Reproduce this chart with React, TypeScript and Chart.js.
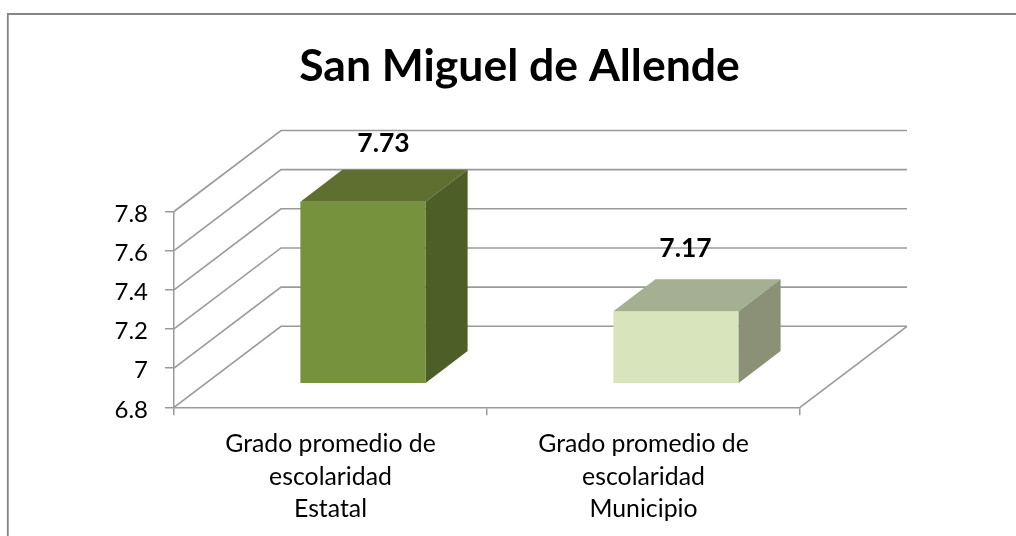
import React, { useEffect, useRef } from "react";
import { Chart, registerables } from "chart.js";

Chart.register(...registerables);

const TITLE = "San Miguel de Allende";
const CATEGORIES = [
  ["Grado promedio de", "escolaridad", "Estatal"],
  ["Grado promedio de", "escolaridad", "Municipio"],
];
const VALUES = [7.73, 7.17];
const VALUE_TEXT = ["7.73", "7.17"];
const Y_MIN = 6.8;
const Y_MAX = 7.8;
const Y_STEP = 0.2;

const FRONT_COLORS = ["#76923c", "#d8e4bc"];
const TOP_COLORS = ["#5e6f30", "#a5af92"];
const SIDE_COLORS = ["#4d5f27", "#8b9177"];

const LINE = "#9a9a9a";
const FONT = "Lato";
// 3D projection
const WALL = { dx: 107, dy: -81 };
const BAR_SHIFT = { dx: 32.5, dy: -23.5 };
const BAR_DEPTH = { dx: 42, dy: -32 };
const LABEL_SHIFT = [{ dx: 20.5, dy: -58 }, { dx: 9.5, dy: -63 }];

const threeD = {
  id: "threeD",
  beforeDraw(chart: any) {
    const { ctx, width, height } = chart;
    ctx.save();
    ctx.fillStyle = "#fff";
    ctx.fillRect(0, 0, width, height);
    ctx.strokeStyle = "#858585";
    ctx.lineWidth = 1.8;
    ctx.beginPath();
    ctx.moveTo(7.8, height + 2);
    ctx.lineTo(7.8, 14);
    ctx.lineTo(width + 2, 14);
    ctx.stroke();
    ctx.restore();
  },
  beforeDatasetsDraw(chart: any) {
    const { ctx } = chart;
    const { x: xs, y: ys } = chart.scales;
    ctx.save();
    ctx.strokeStyle = LINE;
    ctx.lineWidth = 1.6;
    ctx.beginPath();
    for (const t of ys.ticks) {
      const py = ys.getPixelForValue(t.value);
      ctx.moveTo(xs.left, py);
      ctx.lineTo(xs.left + WALL.dx, py + WALL.dy);
      ctx.lineTo(xs.right + WALL.dx, py + WALL.dy);
    }
    ctx.moveTo(xs.right, ys.bottom);
    ctx.lineTo(xs.right + WALL.dx, ys.bottom + WALL.dy);
    ctx.stroke();
    ctx.restore();
  },
  beforeDatasetDraw(chart: any) {
    chart.ctx.save();
    chart.ctx.translate(BAR_SHIFT.dx, BAR_SHIFT.dy);
  },
  afterDatasetDraw(chart: any, args: any) {
    const { ctx } = chart;
    ctx.restore();
    const meta = chart.getDatasetMeta(args.index);
    meta.data.forEach((el: any, i: number) => {
      const { x, y, base, width: w } = el.getProps(["x", "y", "base", "width"], true);
      const l = x - w / 2 + BAR_SHIFT.dx;
      const r = x + w / 2 + BAR_SHIFT.dx;
      const t = y + BAR_SHIFT.dy;
      const b = base + BAR_SHIFT.dy;
      const d = BAR_DEPTH;
      ctx.fillStyle = TOP_COLORS[i];
      ctx.beginPath();
      ctx.moveTo(l, t);
      ctx.lineTo(l + d.dx, t + d.dy);
      ctx.lineTo(r + d.dx, t + d.dy);
      ctx.lineTo(r, t);
      ctx.closePath();
      ctx.fill();
      ctx.fillStyle = SIDE_COLORS[i];
      ctx.beginPath();
      ctx.moveTo(r, t);
      ctx.lineTo(r + d.dx, t + d.dy);
      ctx.lineTo(r + d.dx, b + d.dy);
      ctx.lineTo(r, b);
      ctx.closePath();
      ctx.fill();
    });
  },
  afterDatasetsDraw(chart: any) {
    const { ctx } = chart;
    const meta = chart.getDatasetMeta(0);
    ctx.save();
    ctx.fillStyle = "#000";
    ctx.font = `bold 26.5px ${FONT}`;
    ctx.textAlign = "center";
    ctx.textBaseline = "middle";
    meta.data.forEach((el: any, i: number) => {
      const { x, y } = el.getProps(["x", "y"], true);
      ctx.fillText(
        VALUE_TEXT[i],
        x + BAR_SHIFT.dx + LABEL_SHIFT[i].dx,
        y + BAR_SHIFT.dy + LABEL_SHIFT[i].dy
      );
    });
    ctx.restore();
  },
};

export default function App() {
  const ref = useRef<HTMLCanvasElement>(null);
  useEffect(() => {
    const chart = new Chart(ref.current as HTMLCanvasElement, {
      type: "bar",
      data: {
        labels: CATEGORIES,
        datasets: [
          {
            label: "Grado promedio de escolaridad",
            data: VALUES,
            base: Y_MIN,
            backgroundColor: FRONT_COLORS,
            borderWidth: 0,
            barPercentage: 0.4,
            categoryPercentage: 1,
          },
        ],
      },
      options: {
        responsive: false,
        animation: false,
        layout: { padding: { left: 23, right: 0, top: 0, bottom: 0 } },
        plugins: {
          legend: { display: false },
          tooltip: { enabled: false },
          title: {
            display: true,
            text: TITLE,
            color: "#000",
            font: { family: FONT, size: 44.5, weight: "bold", lineHeight: 1.2 },
            padding: { top: 40.3, bottom: 117.8 },
          },
        },
        scales: {
          x: {
            grid: { drawOnChartArea: false, tickLength: 8, color: LINE, lineWidth: 1.5 },
            border: { color: LINE, width: 1.5 },
            ticks: {
              color: "#000",
              font: { family: FONT, size: 24.8, lineHeight: 1.31 },
              padding: 12.5,
              maxRotation: 0,
              autoSkip: false,
            },
            afterFit(s: any) {
              s.height = 128.7;
            },
          },
          y: {
            min: Y_MIN,
            max: Y_MAX,
            grid: { drawOnChartArea: false, tickLength: 9, color: LINE, lineWidth: 1.5 },
            border: { color: LINE, width: 1.5 },
            ticks: {
              stepSize: Y_STEP,
              color: "#000",
              font: { family: FONT, size: 24 },
              padding: 17,
              labelOffset: 2.5,
              callback: (v: any) => String(Number(Number(v).toFixed(1))),
            },
            afterFit(s: any) {
              s.width = 151;
            },
          },
          spacer: {
            type: "linear",
            position: "right",
            display: true,
            grid: { display: false },
            border: { display: false },
            ticks: { display: false },
            afterFit(s: any) {
              s.width = 216;
            },
          },
        },
      } as any,
      plugins: [threeD],
    });
    return () => chart.destroy();
  }, []);
  return (
    <canvas
      ref={ref}
      width={1016}
      height={536}
      style={{ position: "absolute", left: 0, top: 0, width: 1016, height: 536 }}
    />
  );
}
